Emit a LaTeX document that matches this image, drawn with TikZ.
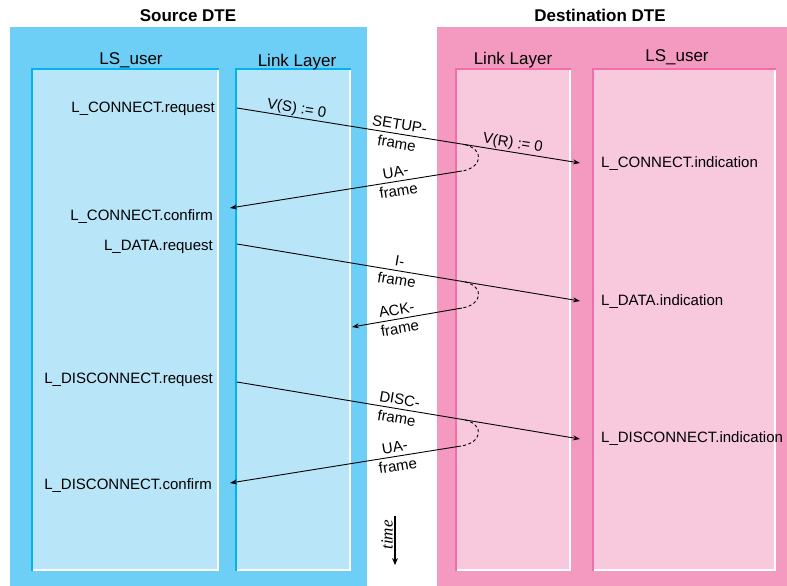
\documentclass[tikz,border=0pt]{standalone}
\usepackage{fontspec}
\setmainfont{Liberation Sans}
\newfontfamily\timefont{Liberation Serif}
\usetikzlibrary{arrows.meta}

\definecolor{srcouter}{HTML}{6DCFF6}
\definecolor{srcinner}{HTML}{B9E5F9}
\definecolor{srcedge}{HTML}{00B3EE}
\definecolor{dstouter}{HTML}{F49AC1}
\definecolor{dstinner}{HTML}{F8C8DD}
\definecolor{dstedge}{HTML}{F06EAA}

% inner layer panel: fill, dark top/left edge, white bottom/right edge
% #1 x1, #2 y1, #3 x2, #4 y2, #5 fill, #6 edge colour
\newcommand{\layerpanel}[6]{%
  \fill[#5] (#1,#2) rectangle (#3,#4);
  \draw[white, line width=2pt] (#3-1,#2) -- (#3-1,#4-1) -- (#1,#4-1);
  \draw[#6, line width=2pt] (#1+1,#4) -- (#1+1,#2+1) -- (#3,#2+1);
}

\tikzset{
  title/.style={font=\fontsize{17}{20}\selectfont\bfseries, inner sep=0pt, anchor=base},
  head/.style={font=\fontsize{17}{20}\selectfont, inner sep=0pt, anchor=base},
  prim/.style={font=\fontsize{15}{18}\selectfont, inner sep=0pt},
  framelbl/.style={font=\fontsize{15}{19}\selectfont, inner sep=0pt, align=center},
  varlbl/.style={font=\fontsize{15}{18}\selectfont, inner sep=0pt},
  msg/.style={line width=0.9pt, -{Stealth[length=7pt,width=5pt]}},
  reply/.style={line width=0.9pt, dash pattern=on 3pt off 2.5pt},
}

\begin{document}
\begin{tikzpicture}[x=1pt, y=-1pt]
\useasboundingbox (0,0) rectangle (787,586);

% ---- Source DTE ----
\fill[srcouter] (10,27) rectangle (367,586);
\layerpanel{31}{68}{219}{571}{srcinner}{srcedge}
\layerpanel{235}{68}{351}{571}{srcinner}{srcedge}
\node[title] (srctitle) at (188,21.5) {Source DTE};
\node[head] (srcuser) at (131,64) {LS\_user};
\node[head] (srclink) at (297,66.5) {Link Layer};

% ---- Destination DTE ----
\fill[dstouter] (437,27) rectangle (787,586);
\layerpanel{455}{68}{571}{571}{dstinner}{dstedge}
\layerpanel{592}{68}{776}{571}{dstinner}{dstedge}
\node[title] (dsttitle) at (600,21.5) {Destination DTE};
\node[head] (dstlink) at (513,64) {Link Layer};
\node[head] (dstuser) at (677,62) {LS\_user};

% ---- service primitives ----
\node[prim, anchor=base east] (conreq)  at (215,112) {L\_CONNECT.request};
\node[prim, anchor=base east] (concnf)  at (213,220) {L\_CONNECT.confirm};
\node[prim, anchor=base east] (datreq)  at (213,250) {L\_DATA.request};
\node[prim, anchor=base east] (discreq) at (213,383) {L\_DISCONNECT.request};
\node[prim, anchor=base east] (disccnf) at (212,489) {L\_DISCONNECT.confirm};
\node[prim, anchor=base west] (conind)  at (601,167) {L\_CONNECT.indication};
\node[prim, anchor=base west] (datind)  at (601,305) {L\_DATA.indication};
\node[prim, anchor=base west] (discind) at (601,442) {L\_DISCONNECT.indication};

% ---- connection set-up ----
\coordinate (c1s) at (237,108);
\coordinate (c1e) at (580,163);
\draw[msg] (c1s)
  -- node[varlbl, pos=.17, sloped, above=1pt] (vs) {V(S) := 0}
     node[framelbl, pos=.47, sloped] (setup) {SETUP-\\frame}
     node[varlbl, pos=.80, sloped, above=1pt] (vr) {V(R) := 0}
     coordinate[pos=.665] (c1t)
  (c1e);
\coordinate (r1s) at (462,171);
\coordinate (r1e) at (230,208);
\draw[reply] (c1t) .. controls (485,150) and (482,168) .. (r1s);
\draw[msg] (r1s) -- node[framelbl, pos=.28, sloped] (ua1) {UA-\\frame} (r1e);

% ---- data transfer ----
\coordinate (c2s) at (237,244);
\coordinate (c2e) at (580,301);
\draw[msg] (c2s)
  -- node[framelbl, pos=.47, sloped] (iframe) {I-\\frame}
     coordinate[pos=.665] (c2t)
  (c2e);
\coordinate (r2s) at (462,308);
\coordinate (r2e) at (352,327);
\draw[reply] (c2t) .. controls (485,287) and (482,305) .. (r2s);
\draw[msg] (r2s) -- node[framelbl, pos=.58, sloped] (ack) {ACK-\\frame} (r2e);

% ---- disconnection ----
\coordinate (c3s) at (237,382);
\coordinate (c3e) at (580,439);
\draw[msg] (c3s)
  -- node[framelbl, pos=.47, sloped] (disc) {DISC-\\frame}
     coordinate[pos=.665] (c3t)
  (c3e);
\coordinate (r3s) at (461,446);
\coordinate (r3e) at (230,483);
\draw[reply] (c3t) .. controls (485,425) and (482,443) .. (r3s);
\draw[msg] (r3s) -- node[framelbl, pos=.28, sloped] (ua2) {UA-\\frame} (r3e);

% ---- time axis ----
\coordinate (t0) at (395,516);
\coordinate (t1) at (395,565);
\draw[line width=1.2pt, -{Stealth[length=7pt,width=6pt]}] (t0) -- (t1);
\node[font=\fontsize{17}{20}\selectfont\timefont\itshape, inner sep=0pt, rotate=90] (timelbl) at (387,535) {time};
\end{tikzpicture}
\end{document}
